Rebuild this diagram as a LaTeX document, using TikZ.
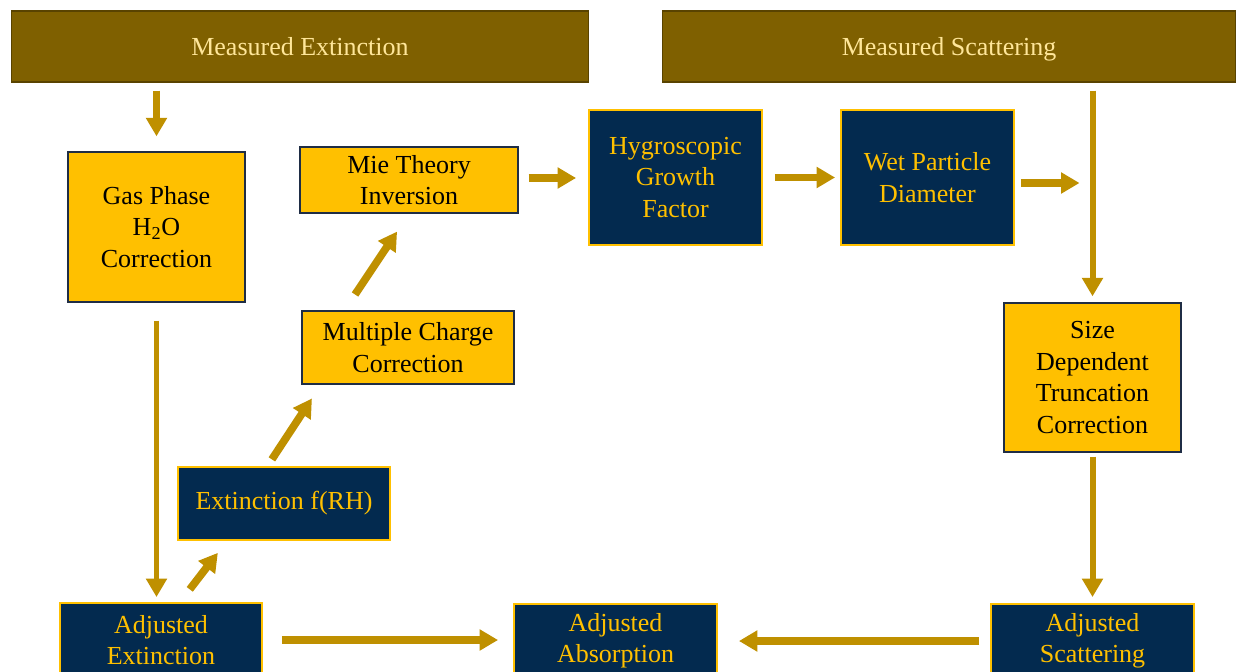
\documentclass[tikz,border=0pt]{standalone}
\usepackage{fontspec}
\setmainfont{Liberation Serif}
\usetikzlibrary{arrows.meta}
\definecolor{banbrown}{HTML}{7F6000}
\definecolor{banlight}{HTML}{FFE699}
\definecolor{boxgold}{HTML}{FFC000}
\definecolor{boxnavy}{HTML}{032A4F}
\definecolor{boxedge}{HTML}{1F2D45}
\definecolor{arrowgold}{HTML}{BF9000}
\begin{document}
\begin{tikzpicture}[x=0.02cm,y=-0.02cm,
  every node/.style={font=\fontsize{14.8}{17.9}\selectfont,align=center,inner sep=0pt},
  banner/.style={fill=banbrown,draw=banbrown!70!black,text=banlight,line width=.6pt,text depth=0pt},
  goldbox/.style={fill=boxgold,draw=boxedge,line width=.8pt},
  navybox/.style={fill=boxnavy,draw=boxgold,text=boxgold,line width=1.1pt},
  flow/.style={draw=arrowgold,line width=4.4pt,-{Triangle[length=10.5pt,width=11.5pt]}},
  thin/.style={line width=3.4pt}]
\path[use as bounding box,clip] (0,0) rectangle (1236,672);
\node[banner,minimum width=11.56cm,minimum height=1.42cm] (extm) at (300,46.5) {Measured Extinction};
\node[banner,minimum width=11.48cm,minimum height=1.42cm] (scatm) at (949,46.5) {Measured Scattering};
\node[goldbox,minimum width=3.54cm,minimum height=3cm] (gas) at (156.5,227) {Gas Phase\\H\textsubscript{2}O\\Correction};
\node[goldbox,minimum width=4.36cm,minimum height=1.32cm] (mie) at (409,180) {Mie Theory\\Inversion};
\node[navybox,minimum width=3.46cm,minimum height=2.7cm] (hygro) at (675.5,177.5) {Hygroscopic\\Growth\\Factor};
\node[navybox,minimum width=3.46cm,minimum height=2.7cm] (wet) at (927.5,177.5) {Wet Particle\\Diameter};
\node[goldbox,minimum width=3.54cm,minimum height=2.98cm] (size) at (1092.5,377.5) {Size\\Dependent\\Truncation\\Correction};
\node[goldbox,minimum width=4.24cm,minimum height=1.46cm] (charge) at (408,347.5) {Multiple Charge\\Correction};
\node[navybox,minimum width=4.24cm,minimum height=1.46cm] (frh) at (284,503.5) {Extinction f(RH)};
\node[navybox,minimum width=4.04cm,minimum height=1.48cm] (adjext) at (161,640) {Adjusted\\Extinction};
\node[navybox,minimum width=4.06cm,minimum height=1.48cm] (adjabs) at (615.5,641) {Adjusted\\Absorption};
\node[navybox,minimum width=4.06cm,minimum height=1.48cm] (adjsca) at (1092.5,641) {Adjusted\\Scattering};
\draw[flow,shorten <=0.16cm,shorten >=0.3cm] (extm.south -| gas.north) -- (gas.north);
\draw[flow,thin,shorten <=0.36cm,shorten >=0.1cm] (gas.south) -- (gas.south |- adjext.north);
\draw[flow,shorten <=0.32cm,shorten >=0.3cm] ([shift={(19,0)}]adjext.north) -- ([shift={(-57,0)}]frh.south);
\draw[flow,shorten <=0.16cm,shorten >=0.33cm] ([shift={(-16.5,0)}]frh.north) -- ([shift={(-87,0)}]charge.south);
\draw[flow,shorten <=0.38cm,shorten >=0.43cm] ([shift={(-63.5,0)}]charge.north) -- (mie.south);
\draw[flow,shorten <=0.2cm,shorten >=0.24cm] ([shift={(0,-2)}]mie.east) -- ([shift={(0,-2)}]mie.east -| hygro.west);
\draw[flow,shorten <=0.24cm,shorten >=0.1cm] (hygro.east) -- (wet.west);
\draw[flow,shorten <=0.12cm,shorten >=0.26cm] ([shift={(0,5.5)}]wet.east) -- ([shift={(0,5.5)}]wet.east -| size.north);
\draw[flow,thin,shorten <=0.16cm,shorten >=0.12cm] (scatm.south -| size.north) -- (size.north);
\draw[flow,thin,shorten <=0.08cm,shorten >=0.12cm] (size.south) -- (adjsca.north);
\draw[flow,shorten <=0.22cm,shorten >=0.42cm] (adjsca.west) -- (adjabs.east);
\draw[flow,shorten <=0.38cm,shorten >=0.3cm] (adjext.east) -- (adjext.east -| adjabs.west);
\end{tikzpicture}
\end{document}
